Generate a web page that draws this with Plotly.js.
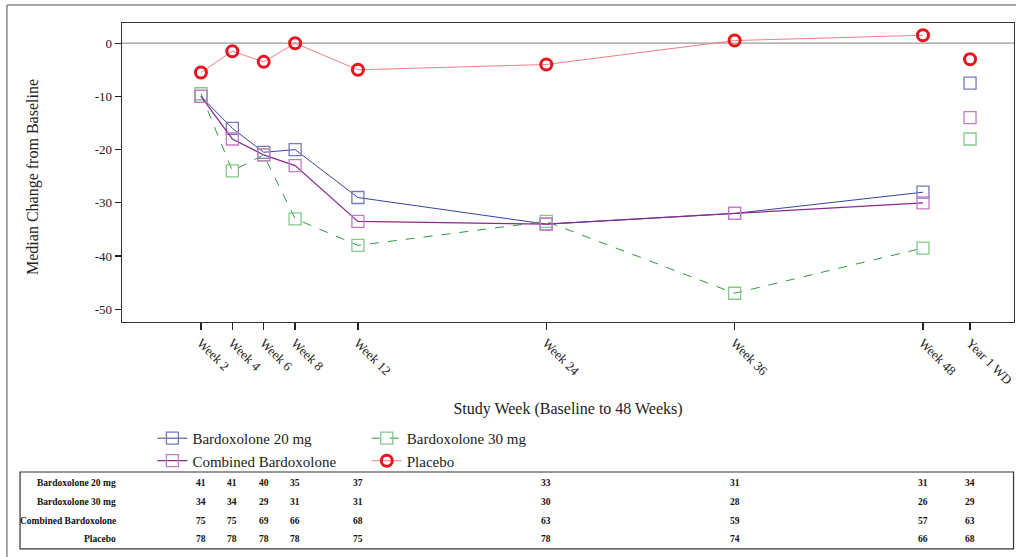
<!DOCTYPE html>
<html>
<head>
<meta charset="utf-8">
<script src="https://cdn.plot.ly/plotly-3.0.1.min.js"></script>
<style>
  html, body { margin: 0; padding: 0; background: #fff; }
  #chart { width: 1016px; height: 557px; }
</style>
</head>
<body>
<div id="chart"></div>
<script>
// Visit schedule (study week) and the withdrawal visit placed after week 48
const weeks = [2, 4, 6, 8, 12, 24, 36, 48];
const wdWeek = 51;
const tickWeeks = [2, 4, 6, 8, 12, 24, 36, 48, 51];
const tickLabels = ['Week 2', 'Week 4', 'Week 6', 'Week 8', 'Week 12', 'Week 24', 'Week 36', 'Week 48', 'Year 1 WD'];
const yTicks = [0, -10, -20, -30, -40, -50];

// Median change from baseline by visit
const bard20 = [-10, -16, -20.5, -20, -29, -34, -32, -28];
const bard30 = [-9.5, -24, -21, -33, -38, -33.5, -47, -38.5];
const combined = [-10, -18, -21, -23, -33.5, -34, -32, -30];
const placebo = [-5.5, -1.5, -3.5, 0, -5, -4, 0.5, 1.5];

// Year 1 withdrawal visit values
const bard20WD = -7.5;
const bard30WD = -18;
const combinedWD = -14;
const placeboWD = -3;

// Number of subjects at each visit (Week 2 ... Year 1 WD)
const rowLabels = ['Bardoxolone 20 mg', 'Bardoxolone 30 mg', 'Combined Bardoxolone', 'Placebo'];
const n20 = [41, 41, 40, 35, 37, 33, 31, 31, 34];
const n30 = [34, 34, 29, 31, 31, 30, 28, 26, 29];
const nComb = [75, 75, 69, 66, 68, 63, 59, 57, 63];
const nPbo = [78, 78, 78, 78, 75, 78, 74, 66, 68];

const yTitle = 'Median Change from Baseline';
const serif = '"Liberation Serif", "DejaVu Serif", serif';

const styles = [
  { name: 'Bardoxolone 20 mg', y: bard20, wd: bard20WD, legend: 'legend',
    line: { color: '#3c419e', width: 1, dash: 'solid' },
    marker: { symbol: 'square-open', size: 12, color: '#7479bd', line: { width: 1.3 } } },
  { name: 'Bardoxolone 30 mg', y: bard30, wd: bard30WD, legend: 'legend2',
    line: { color: '#2f9a3f', width: 1, dash: 'dash' },
    marker: { symbol: 'square-open', size: 12, color: '#84c98a', line: { width: 1.3 } } },
  { name: 'Combined Bardoxolone', y: combined, wd: combinedWD, legend: 'legend',
    line: { color: '#8a2a90', width: 1.2, dash: 'solid' },
    marker: { symbol: 'square-open', size: 12, color: '#c47bc7', line: { width: 1.3 } } },
  { name: 'Placebo', y: placebo, wd: placeboWD, legend: 'legend2',
    line: { color: '#f27f84', width: 1, dash: 'solid' },
    marker: { symbol: 'circle-open', size: 11, color: '#e8141e', line: { width: 3 } } }
];

const traces = [];
styles.forEach(s => {
  traces.push({
    type: 'scatter', mode: 'lines+markers', name: s.name, legend: s.legend,
    x: weeks, y: s.y, line: s.line, marker: s.marker, hoverinfo: 'x+y+name'
  });
});
// Withdrawal visit points are shown unconnected
styles.forEach(s => {
  traces.push({
    type: 'scatter', mode: 'markers', name: s.name, showlegend: false,
    x: [wdWeek], y: [s.wd], marker: s.marker
  });
});

const annotations = [
  // vertical axis title
  { xref: 'paper', yref: 'paper', x: -0.0998, y: 0.485, xanchor: 'center', yanchor: 'middle',
    text: yTitle, textangle: -90, showarrow: false,
    font: { family: serif, size: 16, color: '#222' } }
];

// Subject-count table under the legend
const tableRows = [n20, n30, nComb, nPbo];
const rowY = [-0.538, -0.602, -0.666, -0.726];
tableRows.forEach((row, r) => {
  annotations.push({
    xref: 'paper', yref: 'paper', x: -0.004, y: rowY[r], xanchor: 'right', yanchor: 'middle',
    text: '<b>' + rowLabels[r] + '</b>', showarrow: false,
    font: { family: serif, size: 9.5, color: '#111' }
  });
  row.forEach((v, i) => {
    annotations.push({
      xref: 'x', yref: 'paper', x: tickWeeks[i], y: rowY[r], xanchor: 'center', yanchor: 'middle',
      text: '<b>' + v + '</b>', showarrow: false,
      font: { family: serif, size: 9.5, color: '#111' }
    });
  });
});

const shapes = [
  // reference line at zero change
  { type: 'line', xref: 'paper', yref: 'y', x0: 0, x1: 1, y0: 0, y1: 0, layer: 'below',
    line: { color: '#9a9a9a', width: 1.2 } },
  // outer frame (left and top edges)
  { type: 'line', xref: 'paper', yref: 'paper', x0: -0.129, x1: -0.129, y0: -0.8, y1: 1.060,
    line: { color: '#8a8a8a', width: 1.5 } },
  { type: 'line', xref: 'paper', yref: 'paper', x0: -0.129, x1: 1.02, y0: 1.060, y1: 1.060,
    line: { color: '#8a8a8a', width: 1.5 } },
  // table border
  { type: 'rect', xref: 'paper', yref: 'paper', x0: -0.1143, x1: 0.9995, y0: -0.759, y1: -0.5017,
    line: { color: '#333', width: 1.2 } }
];

const layout = {
  width: 1016, height: 557,
  margin: { l: 122, r: 2, t: 23, b: 235, autoexpand: false },
  paper_bgcolor: '#fff', plot_bgcolor: '#fff',
  font: { family: serif, size: 13, color: '#222' },
  xaxis: {
    range: [-3.03, 53.8], tickmode: 'array', tickvals: tickWeeks, ticktext: tickLabels,
    tickangle: 45, ticks: 'outside', ticklen: 7, tickcolor: '#222', tickwidth: 1.3,
    showgrid: false, zeroline: false, showline: true, linecolor: '#333', linewidth: 1.3, mirror: true,
    tickfont: { family: serif, size: 13, color: '#222' },
    title: { text: 'Study Week (Baseline to 48 Weeks)', font: { family: serif, size: 16, color: '#222' }, standoff: 16 }
  },
  yaxis: {
    range: [-52.4, 3.8], tickmode: 'array', tickvals: yTicks, ticktext: yTicks.map(v => String(v)),
    ticks: 'outside', ticklen: 6, tickcolor: '#222', tickwidth: 1.3,
    showgrid: false, zeroline: false,
    showline: true, linecolor: '#333', linewidth: 1.3, mirror: true,
    tickfont: { family: serif, size: 13, color: '#222' }
  },
  legend: {
    xref: 'container', yref: 'container', x: 0.150, y: 0.2425, xanchor: 'left', yanchor: 'top',
    orientation: 'v', bgcolor: 'rgba(0,0,0,0)', borderwidth: 0,
    font: { family: serif, size: 15, color: '#222' }
  },
  legend2: {
    xref: 'container', yref: 'container', x: 0.361, y: 0.2425, xanchor: 'left', yanchor: 'top',
    orientation: 'v', bgcolor: 'rgba(0,0,0,0)', borderwidth: 0,
    font: { family: serif, size: 15, color: '#222' }
  },
  showlegend: true,
  annotations: annotations,
  shapes: shapes
};

Plotly.newPlot('chart', traces, layout, { displayModeBar: false, staticPlot: true });
</script>
</body>
</html>
